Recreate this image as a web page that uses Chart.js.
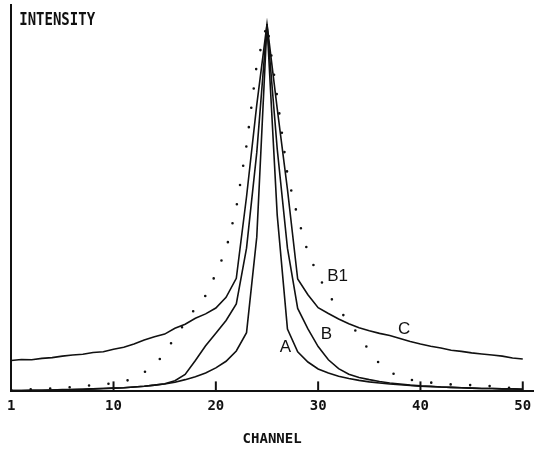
<!DOCTYPE html>
<html>
<head>
<meta charset="utf-8">
<script src="https://cdn.jsdelivr.net/npm/chart.js@4.4.1/dist/chart.umd.min.js"></script>
<style>
    body { margin: 0; background: #fff; }
    #wrap { width: 541px; height: 450px; }
</style>
</head>
<body>
<div id="wrap"><canvas id="chart" width="541" height="450"></canvas></div>
<script>
// channels 0..50
const channels = Array.from({ length: 51 }, (_, i) => i);

const curveA = [
    0.2, 0.2, 0.3, 0.3, 0.4, 0.4, 0.5, 0.6, 0.7, 0.8,
    0.9, 1.0, 1.2, 1.4, 1.7, 2.0, 2.5, 3.2, 4.0, 5.0,
    6.4, 8.2, 11.0, 16.0, 42, 100, 48, 17, 10.8, 8.0,
    6.1, 5.0, 4.1, 3.5, 3.0, 2.6, 2.3, 2.0, 1.8, 1.6,
    1.4, 1.3, 1.2, 1.1, 1.0, 0.9, 0.8, 0.8, 0.7, 0.7, 0.6
];

const curveB = [
    0.2, 0.2, 0.3, 0.3, 0.4, 0.5, 0.5, 0.6, 0.7, 0.8,
    0.9, 1.0, 1.2, 1.4, 1.7, 2.1, 2.9, 4.6, 8.4, 12.4,
    15.8, 19.3, 23.8, 39, 65, 100, 66, 39, 22.6, 17.0,
    12.2, 8.6, 6.2, 4.7, 3.8, 3.2, 2.7, 2.3, 2.0, 1.7,
    1.5, 1.4, 1.2, 1.1, 1.0, 0.9, 0.8, 0.8, 0.7, 0.7, 0.6
];

const curveB1 = [
    0.4, 0.5, 0.6, 0.7, 0.8, 1.0, 1.2, 1.5, 1.7, 2.0,
    2.2, 2.6, 3.7, 5.2, 7.4, 10.1, 14.9, 18.6, 22.7, 26.1,
    32, 38.6, 50, 67, 89, 100, 80, 59, 47.5, 37.8,
    31.5, 26.5, 22.3, 19, 15.2, 11, 7.5, 5.3, 4.0, 3.2,
    2.7, 2.4, 2.1, 1.9, 1.8, 1.7, 1.6, 1.4, 1.2, 0.9, 0.8
];

const curveC = [
    8.4, 8.7, 8.6, 9.0, 9.2, 9.6, 9.9, 10.1, 10.6, 10.8,
    11.5, 12.0, 12.9, 14.0, 14.9, 15.6, 17.2, 18.3, 19.9, 21.1,
    22.7, 25.6, 30.8, 53, 78, 100, 77, 55, 30.6, 26.3,
    22.8, 21.2, 19.7, 18.4, 17.3, 16.5, 15.8, 15.2, 14.4, 13.6,
    12.9, 12.3, 11.8, 11.2, 10.9, 10.5, 10.2, 9.9, 9.6, 9.1, 8.8
];

const tickValues = [0, 10, 20, 30, 40, 50];
const tickLabels = ['1', '10', '20', '30', '40', '50'];

const curveNames = ['A', 'B', 'B1', 'C'];

const toPoints = (vals) => vals.map((v, i) => ({ x: channels[i], y: v }));

const ink = '#111';
const monoFont = '"DejaVu Sans Mono", monospace';

// inward tick marks, curve letters and the INTENSITY caption
const annotate = {
    id: 'annotate',
    afterDatasetsDraw(chart) {
        const { ctx, chartArea, scales: { x, y } } = chart;
        ctx.save();
        ctx.strokeStyle = ink;
        ctx.lineWidth = 2;
        tickValues.forEach(v => {
            if (v === 0) return;
            const px = x.getPixelForValue(v);
            ctx.beginPath();
            ctx.moveTo(px, chartArea.bottom);
            ctx.lineTo(px, chartArea.bottom - 10);
            ctx.stroke();
        });

        // where the letters sit, in channel / intensity units
        const spots = [[26.8, 12], [30.8, 15.6], [31.9, 31.4], [38.4, 17]];
        ctx.fillStyle = ink;
        ctx.font = '17px "Liberation Sans", Arial, sans-serif';
        ctx.textAlign = 'center';
        ctx.textBaseline = 'middle';
        curveNames.forEach((name, i) => {
            ctx.fillText(name, x.getPixelForValue(spots[i][0]), y.getPixelForValue(spots[i][1]));
        });

        ctx.font = 'bold 14px ' + monoFont;
        ctx.textAlign = 'left';
        ctx.textBaseline = 'alphabetic';
        ctx.translate(chartArea.left + 8, 25);
        ctx.scale(1, 1.25);
        ctx.fillText('INTENSITY', 0, 0);
        ctx.restore();
    }
};

const solid = (label, vals) => ({
    label,
    data: toPoints(vals),
    borderColor: ink,
    borderWidth: 1.6,
    pointRadius: 0,
    tension: 0,
    fill: false
});

new Chart(document.getElementById('chart'), {
    type: 'line',
    data: {
        datasets: [
            solid('A', curveA),
            solid('B', curveB),
            {
                label: 'B1',
                data: toPoints(curveB1),
                borderColor: ink,
                borderWidth: 2.6,
                borderDash: [0, 19.5],
                borderCapStyle: 'round',
                pointRadius: 0,
                tension: 0,
                fill: false
            },
            solid('C', curveC)
        ]
    },
    options: {
        responsive: false,
        animation: false,
        layout: { padding: { left: 11, right: 8, top: 5, bottom: 2 } },
        plugins: {
            legend: { display: false },
            tooltip: { enabled: false }
        },
        scales: {
            x: {
                type: 'linear',
                min: 0,
                max: 51,
                afterBuildTicks: (scale) => {
                    scale.ticks = tickValues.map(v => ({ value: v }));
                },
                grid: { display: false, drawTicks: false },
                border: { display: true, color: ink, width: 2 },
                ticks: {
                    color: ink,
                    padding: 7,
                    maxRotation: 0,
                    autoSkip: false,
                    font: { family: monoFont, size: 14, weight: 'bold' },
                    callback: (value) => tickLabels[tickValues.indexOf(value)]
                },
                title: {
                    display: true,
                    text: 'CHANNEL',
                    color: ink,
                    padding: { top: 9, bottom: 0 },
                    font: { family: monoFont, size: 14, weight: 'bold' }
                }
            },
            y: {
                min: 0,
                max: 105.2,
                grid: { display: false, drawTicks: false },
                border: { display: true, color: ink, width: 2 },
                ticks: { display: false }
            }
        }
    },
    plugins: [annotate]
});
</script>
</body>
</html>
